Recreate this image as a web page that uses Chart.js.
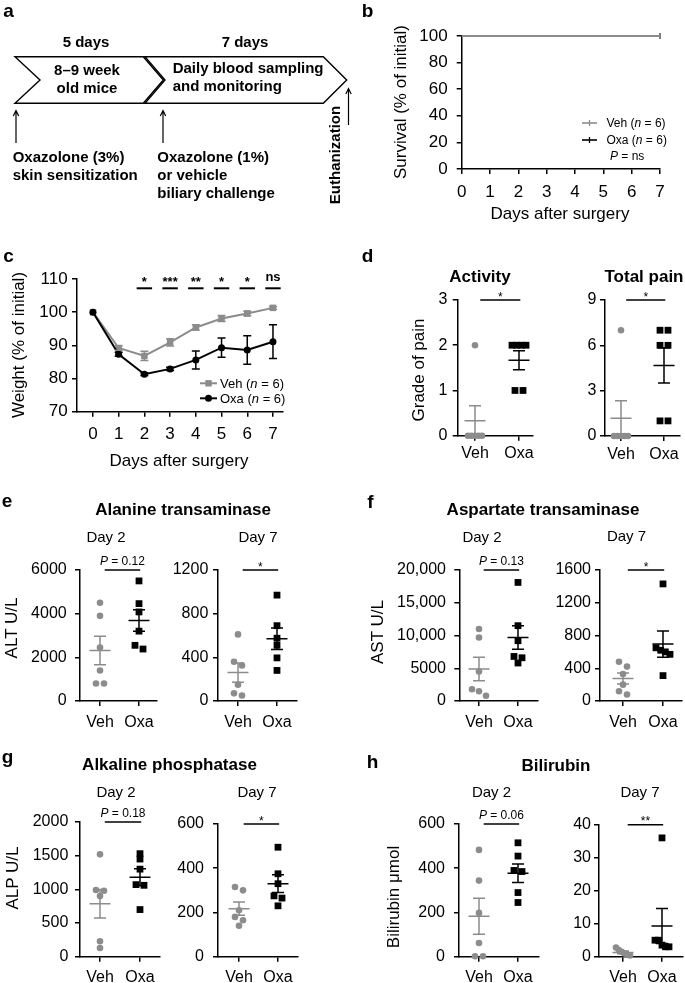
<!DOCTYPE html>
<html><head><meta charset="utf-8">
<script src="https://cdn.jsdelivr.net/npm/chart.js@4.4.1/dist/chart.umd.min.js"></script>
<style>
html,body{margin:0;padding:0;background:#fff;}
body{width:685px;height:983px;position:relative;overflow:hidden;font-family:"Liberation Sans",Arial,Helvetica,sans-serif;color:#000;}
.t{position:absolute;white-space:nowrap;line-height:1;z-index:3;}
canvas{position:absolute;z-index:1;}
svg{position:absolute;left:0;top:0;z-index:2;}
</style></head><body>
<svg width="685" height="983">
 <g fill="#fff" stroke="#000" stroke-width="1.4" stroke-linejoin="miter">
  <polygon points="15,56.7 143.3,56.7 163.3,80 143.3,103.3 15,103.3 40,80"/>
  <polygon points="145,56.7 323.3,56.7 346.7,80 323.3,103.3 145,103.3 165,80"/>
 </g>
 <g stroke="#000" stroke-width="1.2" fill="none">
  <path d="M16,143 V110.5 M13.3,116 L16,110.5 L18.7,116"/>
  <path d="M163,143 V110.5 M160.3,116 L163,110.5 L165.7,116"/>
  <path d="M348.5,125 V88.5 M345.8,94 L348.5,88.5 L351.2,94"/>
 </g>
 <g>
  <line x1="582" y1="123" x2="597" y2="123" stroke="#8c8c8c" stroke-width="1.6"/>
  <line x1="589.5" y1="120" x2="589.5" y2="126" stroke="#8c8c8c" stroke-width="1.3"/>
  <line x1="582" y1="140" x2="597" y2="140" stroke="#000" stroke-width="1.6"/>
  <line x1="589.5" y1="137" x2="589.5" y2="143" stroke="#000" stroke-width="1.3"/>
  <line x1="200" y1="383.3" x2="217" y2="383.3" stroke="#8c8c8c" stroke-width="2"/>
  <rect x="205.3" y="380.1" width="6.4" height="6.4" fill="#8c8c8c"/>
  <line x1="200" y1="398.3" x2="217" y2="398.3" stroke="#000" stroke-width="2"/>
  <circle cx="208.5" cy="398.3" r="3.5" fill="#000"/>
 </g>
</svg>
<script>
// ================= DATA =================
const days = [0, 1, 2, 3, 4, 5, 6, 7];
const survivalVeh = [100, 100, 100, 100, 100, 100, 100, 100];
const survivalOxa = [100, 100, 100, 100, 100, 100, 100, 100];

const weightVeh    = [100, 89.2, 86.8, 90.9, 95.4, 98.1, 99.6, 101.3];
const weightVehSem = [0, 0.7, 1.4, 1.1, 0.8, 0.9, 0.7, 0.4];
const weightOxa    = [100, 87.3, 81.3, 82.9, 85.6, 89.3, 88.6, 91.1];
const weightOxaSem = [0, 0.6, 0.4, 0.5, 2.7, 2.9, 4.3, 5.1];
const weightSig    = ['', '', '*', '***', '**', '*', '*', 'ns'];

const groups = ['Veh', 'Oxa'];

const activityVeh = [0, 0, 0, 0, 0, 2];
const activityOxa = [2, 2, 2, 2, 1, 1];
const activityMean = [0.33, 1.67];
const activitySem = [0.33, 0.21];

const painVeh = [0, 0, 0, 0, 0, 7];
const painOxa = [7, 7, 6, 6, 1, 1];
const painMean = [1.17, 4.67];
const painSem = [1.17, 1.17];

const altD2Veh = [4500, 3900, 2450, 1400, 800, 800];
const altD2Oxa = [5500, 4460, 4080, 3200, 2550, 2380];
const altD2Mean = [2310, 3690];
const altD2Sem = [655, 490];

const altD7Veh = [610, 360, 325, 150, 70, 50];
const altD7Oxa = [970, 690, 575, 510, 395, 280];
const altD7Mean = [260, 570];
const altD7Sem = [88, 98];

const astD2Veh = [11000, 9700, 4500, 1800, 1500, 800];
const astD2Oxa = [18100, 11500, 9200, 6800, 6600, 5800];
const astD2Mean = [4880, 9680];
const astD2Sem = [1790, 1790];

const astD7Veh = [480, 420, 330, 200, 120, 80];
const astD7Oxa = [1430, 650, 620, 600, 570, 310];
const astD7Mean = [275, 695];
const astD7Sem = [66, 160];

const alpD2Veh = [1520, 990, 980, 900, 230, 130];
const alpD2Oxa = [1530, 1450, 1300, 1070, 1060, 700];
const alpD2Mean = [785, 1180];
const alpD2Sem = [212, 125];

const alpD7Veh = [315, 300, 210, 180, 165, 140];
const alpD7Oxa = [495, 375, 330, 275, 265, 230];
const alpD7Mean = [217, 330];
const alpD7Sem = [30, 40];

const bilD2Veh = [483, 344, 198, 62, 2, 2];
const bilD2Oxa = [515, 455, 390, 385, 290, 245];
const bilD2Mean = [183, 377];
const bilD2Sem = [81, 42];

const bilD7Veh = [2.8, 2, 1.5, 1, 0.6, 0.4];
const bilD7Oxa = [36, 5, 5, 3.5, 3, 3];
const bilD7Mean = [1.3, 9.3];
const bilD7Sem = [0.4, 5.3];

// ================= STYLE / HELPERS =================
const GRAY = '#8c8c8c';
const FF = '"Liberation Sans", Arial, sans-serif';
Chart.defaults.font.family = FF;
Chart.defaults.color = '#000';
Chart.defaults.animation = false;

function place(L, T, R, B, padT, padR, yW, xH) {
  const left = Math.floor(L - yW), top = Math.floor(T - padT);
  const width = Math.ceil(R + padR) - left, height = Math.ceil(B + xH) - top;
  const c = document.createElement('canvas');
  c.width = width; c.height = height;
  Object.assign(c.style, {left: left + 'px', top: top + 'px', width: width + 'px', height: height + 'px'});
  document.body.appendChild(c);
  return {canvas: c, yW: L - left, padT: T - top, padR: left + width - R, xH: top + height - B};
}

function axis(o) {
  const a = {
    type: 'linear', min: o.min, max: o.max,
    grid: {display: true, drawOnChartArea: false, drawTicks: true, tickLength: 5, tickWidth: 1.5, tickColor: '#000', color: '#000', lineWidth: 1.5},
    border: {display: true, color: '#000', width: 1.5},
    ticks: {font: {size: o.size}, padding: o.pad, color: '#000', autoSkip: false, maxRotation: 0, callback: o.cb},
    afterFit: (s) => {
      if (o.w !== undefined) s.width = o.w;
      if (o.h !== undefined) s.height = o.h;
      s.paddingLeft = 0; s.paddingRight = 0; s.paddingTop = 0; s.paddingBottom = 0;
    }
  };
  if (o.step) a.ticks.stepSize = o.step;
  if (o.tickVals) a.afterBuildTicks = (s) => { s.ticks = o.tickVals.map(v => ({value: v})); };
  return a;
}

const fmt = v => v >= 10000 ? v.toLocaleString('en-US') : String(v);

function drawLabel(ctx, s, cx, yb, boldLabels) {
  ctx.fillStyle = '#000'; ctx.textBaseline = 'alphabetic';
  if (s.startsWith('P')) {
    const rest = s.slice(1);
    ctx.font = 'italic 12px ' + FF; const w1 = ctx.measureText('P').width;
    ctx.font = '12px ' + FF; const w2 = ctx.measureText(rest).width;
    const x0 = cx - (w1 + w2) / 2;
    ctx.textAlign = 'left';
    ctx.font = 'italic 12px ' + FF; ctx.fillText('P', x0, yb - 5);
    ctx.font = '12px ' + FF; ctx.fillText(rest, x0 + w1, yb - 5);
  } else if (/^\*+$/.test(s)) {
    ctx.font = (boldLabels ? 'bold 13px ' : '12px ') + FF; ctx.textAlign = 'center';
    ctx.fillText(s, cx, yb + (boldLabels ? 0 : 0.5));
  } else {
    ctx.font = 'bold 13px ' + FF; ctx.textAlign = 'center';
    ctx.fillText(s, cx, yb - 5);
  }
}

function jitter(vals, ppy, ppx) {
  const idx = vals.map((v, i) => i).sort((a, b) => vals[b] - vals[a]);
  const xs = new Array(vals.length).fill(0);
  let cluster = [idx[0]];
  const flush = () => {
    const n = cluster.length;
    if (n > 1) {
      const span = Math.min(8 * (n - 1), 14);
      cluster.forEach((k, j) => { xs[k] = (-span / 2 + span * j / (n - 1)) / ppx; });
    }
  };
  for (let j = 1; j < idx.length; j++) {
    if ((vals[idx[j - 1]] - vals[idx[j]]) * ppy < 5) cluster.push(idx[j]);
    else { flush(); cluster = [idx[j]]; }
  }
  flush();
  return xs;
}

function meanSemPlugin(mean, sem) {
  return {id: 'meansem', afterDatasetsDraw(chart) {
    const {ctx, scales: {x, y}} = chart;
    ctx.save(); ctx.lineWidth = 1.5;
    [0, 1].forEach(i => {
      const cx = x.getPixelForValue(i + 1), my = y.getPixelForValue(mean[i]);
      const hi = y.getPixelForValue(mean[i] + sem[i]), lo = y.getPixelForValue(Math.max(0, mean[i] - sem[i]));
      ctx.strokeStyle = i ? '#000' : GRAY;
      ctx.beginPath();
      ctx.moveTo(cx - 10.5, my); ctx.lineTo(cx + 10.5, my);
      ctx.moveTo(cx, hi); ctx.lineTo(cx, lo);
      ctx.moveTo(cx - 6, hi); ctx.lineTo(cx + 6, hi);
      ctx.moveTo(cx - 6, lo); ctx.lineTo(cx + 6, lo);
      ctx.stroke();
    });
    ctx.restore();
  }};
}

function sigPlugin(sig) {
  return {id: 'sig', afterDraw(chart) {
    const {ctx, scales: {x, y}} = chart;
    const yb = y.getPixelForValue(y.max);
    const x1 = x.getPixelForValue(1.12), x2 = x.getPixelForValue(2.03);
    ctx.save(); ctx.strokeStyle = '#000'; ctx.lineWidth = 1.5;
    ctx.beginPath(); ctx.moveTo(x1, yb); ctx.lineTo(x2, yb); ctx.stroke();
    drawLabel(ctx, sig, (x1 + x2) / 2, yb, false);
    ctx.restore();
  }};
}

function dotPlot(p) {
  const g = place(p.L, p.T, p.R, p.B, 34, 8, 62, 32);
  const ppx = p.O - p.V;
  const ppy = (p.B - p.T) / p.max;
  const jv = jitter(p.veh, ppy, ppx), jo = jitter(p.oxa, ppy, ppx);
  new Chart(g.canvas, {
    type: 'scatter',
    data: {datasets: [
      {label: 'Veh', data: p.veh.map((v, i) => ({x: 1 + jv[i], y: v})), pointStyle: 'circle', pointRadius: 3.3, backgroundColor: GRAY, borderWidth: 0, clip: false},
      {label: 'Oxa', data: p.oxa.map((v, i) => ({x: 2 + jo[i], y: v})), pointStyle: 'rect', pointRadius: 4.8, backgroundColor: '#000', borderWidth: 0, clip: false}
    ]},
    options: {
      responsive: false, devicePixelRatio: 1, animation: false, events: [],
      layout: {padding: {top: g.padT, right: g.padR, left: 0, bottom: 0}},
      scales: {
        x: axis({min: 1 - (p.V - p.L) / ppx, max: 2 + (p.R - p.O) / ppx, tickVals: [1, 2], cb: v => groups[v - 1], size: 16, pad: p.xpad, h: g.xH}),
        y: axis({min: 0, max: p.max, step: p.step, cb: fmt, size: 16, pad: p.ygap - 5, w: g.yW})
      },
      plugins: {legend: {display: false}, tooltip: {enabled: false}}
    },
    plugins: [meanSemPlugin(p.mean, p.sem), sigPlugin(p.sig)]
  });
}

// ================= PANEL b: survival =================
(function () {
  const L = 461.7, R = 660, T = 36, B = 169;
  const g = place(L, T, R, B, 14, 14, 62, 34);
  const last = days.length - 1;
  const ds = (lab, arr, col) => ({
    label: lab, data: days.map((d, i) => ({x: d, y: arr[i]})), borderColor: col, backgroundColor: col,
    borderWidth: 1.8, pointStyle: 'line', pointRotation: 90, pointBorderWidth: 1.3,
    pointRadius: ctx => ctx.dataIndex === last ? 3 : 0, clip: false, tension: 0, stepped: true
  });
  new Chart(g.canvas, {
    type: 'line',
    data: {datasets: [ds('Veh', survivalVeh, GRAY), ds('Oxa', survivalOxa, '#000')]},
    options: {
      responsive: false, devicePixelRatio: 1, animation: false, events: [],
      layout: {padding: {top: g.padT, right: g.padR, left: 0, bottom: 0}},
      scales: {
        x: axis({min: 0, max: 7, step: 1, size: 17, pad: 8, h: g.xH}),
        y: axis({min: 0, max: 100, step: 20, size: 17, pad: 9, w: g.yW})
      },
      plugins: {legend: {display: false}, tooltip: {enabled: false}}
    }
  });
})();

// ================= PANEL c: weight =================
(function () {
  const L = 77, R = 283, T = 279, B = 411.7;
  const g = place(L, T, R, B, 28, 10, 62, 34);
  const errPlugin = {id: 'err', afterDatasetsDraw(chart) {
    const {ctx, scales: {x, y}} = chart;
    ctx.save(); ctx.lineWidth = 1.5;
    [[weightVeh, weightVehSem, GRAY], [weightOxa, weightOxaSem, '#000']].forEach(([m, s, col]) => {
      ctx.strokeStyle = col;
      days.forEach((d, i) => {
        if (!s[i]) return;
        const cx = x.getPixelForValue(d), hi = y.getPixelForValue(m[i] + s[i]), lo = y.getPixelForValue(m[i] - s[i]);
        ctx.beginPath();
        ctx.moveTo(cx, hi); ctx.lineTo(cx, lo);
        ctx.moveTo(cx - 4, hi); ctx.lineTo(cx + 4, hi);
        ctx.moveTo(cx - 4, lo); ctx.lineTo(cx + 4, lo);
        ctx.stroke();
      });
    });
    ctx.restore();
  }};
  const sigPl = {id: 'wsig', afterDraw(chart) {
    const {ctx, scales: {x, y}} = chart;
    const yb = y.getPixelForValue(107.2);
    ctx.save(); ctx.strokeStyle = '#000'; ctx.lineWidth = 2;
    days.forEach((d, i) => {
      if (!weightSig[i]) return;
      const x1 = x.getPixelForValue(d - 0.3), x2 = x.getPixelForValue(d + 0.3);
      ctx.beginPath(); ctx.moveTo(x1, yb); ctx.lineTo(x2, yb); ctx.stroke();
      drawLabel(ctx, weightSig[i], (x1 + x2) / 2, yb - 2, true);
    });
    ctx.restore();
  }};
  new Chart(g.canvas, {
    type: 'line',
    data: {datasets: [
      {label: 'Oxa', data: days.map((d, i) => ({x: d, y: weightOxa[i]})), borderColor: '#000', backgroundColor: '#000', borderWidth: 2, pointStyle: 'circle', pointRadius: 3.5, pointBorderWidth: 0, clip: false},
      {label: 'Veh', data: days.map((d, i) => ({x: d, y: weightVeh[i]})), borderColor: GRAY, backgroundColor: GRAY, borderWidth: 2, pointStyle: 'rect', pointRadius: 4.6, pointBorderWidth: 0, clip: false}
    ]},
    options: {
      responsive: false, devicePixelRatio: 1, animation: false, events: [],
      layout: {padding: {top: g.padT, right: g.padR, left: 0, bottom: 0}},
      scales: {
        x: axis({min: -0.62, max: 7.39, tickVals: days, size: 17, pad: 7, h: g.xH}),
        y: axis({min: 70, max: 110, step: 10, size: 17, pad: 4.3, w: g.yW})
      },
      plugins: {legend: {display: false}, tooltip: {enabled: false}}
    },
    plugins: [errPlugin, sigPl]
  });
})();

// ================= DOT PLOTS d–h =================
dotPlot({L: 457.7, V: 475, O: 519, R: 533, T: 300, B: 435.7, max: 3, step: 1, veh: activityVeh, oxa: activityOxa, mean: activityMean, sem: activitySem, sig: '*', ygap: 10.4, xpad: 3.5});
dotPlot({L: 605, V: 621, O: 664, R: 680, T: 300, B: 436, max: 9, step: 3, veh: painVeh, oxa: painOxa, mean: painMean, sem: painSem, sig: '*', ygap: 8.5, xpad: 3.5});
dotPlot({L: 80, V: 100, O: 139, R: 157, T: 570, B: 701, max: 6000, step: 2000, veh: altD2Veh, oxa: altD2Oxa, mean: altD2Mean, sem: altD2Sem, sig: 'P = 0.12', ygap: 13.3, xpad: 6.5});
dotPlot({L: 218, V: 238, O: 277, R: 297, T: 570, B: 701, max: 1200, step: 400, veh: altD7Veh, oxa: altD7Oxa, mean: altD7Mean, sem: altD7Sem, sig: '*', ygap: 9.7, xpad: 6.5});
dotPlot({L: 459.3, V: 479, O: 518, R: 538, T: 570, B: 701, max: 20000, step: 5000, veh: astD2Veh, oxa: astD2Oxa, mean: astD2Mean, sem: astD2Sem, sig: 'P = 0.13', ygap: 13.3, xpad: 6.5});
dotPlot({L: 600, V: 623, O: 663, R: 682, T: 570, B: 701, max: 1600, step: 400, veh: astD7Veh, oxa: astD7Oxa, mean: astD7Mean, sem: astD7Sem, sig: '*', ygap: 9, xpad: 6.5});
dotPlot({L: 80, V: 100, O: 140, R: 160, T: 822, B: 956.7, max: 2000, step: 500, veh: alpD2Veh, oxa: alpD2Oxa, mean: alpD2Mean, sem: alpD2Sem, sig: 'P = 0.18', ygap: 11.7, xpad: 6});
dotPlot({L: 218, V: 239, O: 278, R: 298, T: 824, B: 956.7, max: 600, step: 200, veh: alpD7Veh, oxa: alpD7Oxa, mean: alpD7Mean, sem: alpD7Sem, sig: '*', ygap: 14, xpad: 6});
dotPlot({L: 459, V: 479, O: 518, R: 539, T: 824, B: 956.7, max: 600, step: 200, veh: bilD2Veh, oxa: bilD2Oxa, mean: bilD2Mean, sem: bilD2Sem, sig: 'P = 0.06', ygap: 14, xpad: 6});
dotPlot({L: 599, V: 623, O: 662, R: 683, T: 824.7, B: 956.7, max: 40, step: 10, veh: bilD7Veh, oxa: bilD7Oxa, mean: bilD7Mean, sem: bilD7Sem, sig: '**', ygap: 8, xpad: 6});

// ================= TEXT =================
function txt(html, x, base, size, o) {
  o = o || {};
  const d = document.createElement('div');
  d.className = 't';
  d.innerHTML = html;
  d.style.fontSize = size + 'px';
  if (o.bold) d.style.fontWeight = 'bold';
  if (o.rot) {
    d.style.left = x + 'px'; d.style.top = base + 'px';
    d.style.transform = 'translate(-50%,-50%) rotate(-90deg)';
  } else {
    d.style.left = x + 'px';
    d.style.top = (base - 0.8464 * size) + 'px';
    if (o.center) d.style.transform = 'translateX(-50%)';
  }
  document.body.appendChild(d);
}
// panel letters
[['a', 3.3, 16.7], ['b', 361.7, 16.7], ['c', 3.3, 261.7], ['d', 361.7, 261.7], ['e', 1.7, 506.7], ['f', 367.3, 508], ['g', 1.7, 763.5], ['h', 366.7, 768]]
  .forEach(([s, x, b]) => txt(s, x, b, 19, {bold: true}));
// panel a schematic
txt('5 days', 86, 46.5, 15, {bold: true, center: true});
txt('7 days', 245, 46.5, 15, {bold: true, center: true});
txt('8–9 week', 87, 75, 15, {bold: true, center: true});
txt('old mice', 87, 92.7, 15, {bold: true, center: true});
txt('Daily blood sampling', 172.7, 73, 15, {bold: true});
txt('and monitoring', 172.7, 90.7, 15, {bold: true});
txt('Oxazolone (3%)', 12.7, 161.7, 15, {bold: true});
txt('skin sensitization', 12.7, 179.7, 15, {bold: true});
txt('Oxazolone (1%)', 157.3, 161.7, 15, {bold: true});
txt('or vehicle', 157.3, 179.7, 15, {bold: true});
txt('biliary challenge', 157.3, 197.3, 15, {bold: true});
txt('Euthanization', 334, 155, 15, {bold: true, rot: true});
// b
txt('Survival (% of initial)', 400, 102, 17, {rot: true});
txt('Days after surgery', 560, 219.5, 17, {center: true});
txt('Veh (<i>n</i> = 6)', 606.5, 127.3, 12);
txt('Oxa (<i>n</i> = 6)', 606.5, 144.3, 12);
txt('<i>P</i> = ns', 610, 160.3, 12);
// c
txt('Weight (% of initial)', 18, 345, 17, {rot: true});
txt('Days after surgery', 179, 466, 17, {center: true});
txt('Veh (<i>n</i> = 6)', 220, 388, 13);
txt('Oxa (<i>n</i> = 6)', 220, 403, 13);
// d
txt('Activity', 480, 282, 17, {bold: true, center: true});
txt('Total pain', 644, 282, 17, {bold: true, center: true});
txt('Grade of pain', 417.5, 370, 17, {rot: true});
// e
txt('Alanine transaminase', 183, 515, 17, {bold: true, center: true});
txt('Day 2', 106, 541.5, 15, {center: true});
txt('Day 7', 258, 541.5, 15, {center: true});
txt('ALT U/L', 11, 628, 17, {rot: true});
// f
txt('Aspartate transaminase', 543, 515, 17, {bold: true, center: true});
txt('Day 2', 482, 541.5, 15, {center: true});
txt('Day 7', 626.5, 541, 15, {center: true});
txt('AST U/L', 377, 632, 17, {rot: true});
// g
txt('Alkaline phosphatase', 169.5, 770, 17, {bold: true, center: true});
txt('Day 2', 116, 797, 15, {center: true});
txt('Day 7', 257, 797, 15, {center: true});
txt('ALP U/L', 12, 878, 17, {rot: true});
// h
txt('Bilirubin', 556, 771, 17, {bold: true, center: true});
txt('Day 2', 491.5, 797, 15, {center: true});
txt('Day 7', 640, 797, 15, {center: true});
txt('Bilirubin μmol', 393, 897, 17, {rot: true});
</script>
</body></html>
